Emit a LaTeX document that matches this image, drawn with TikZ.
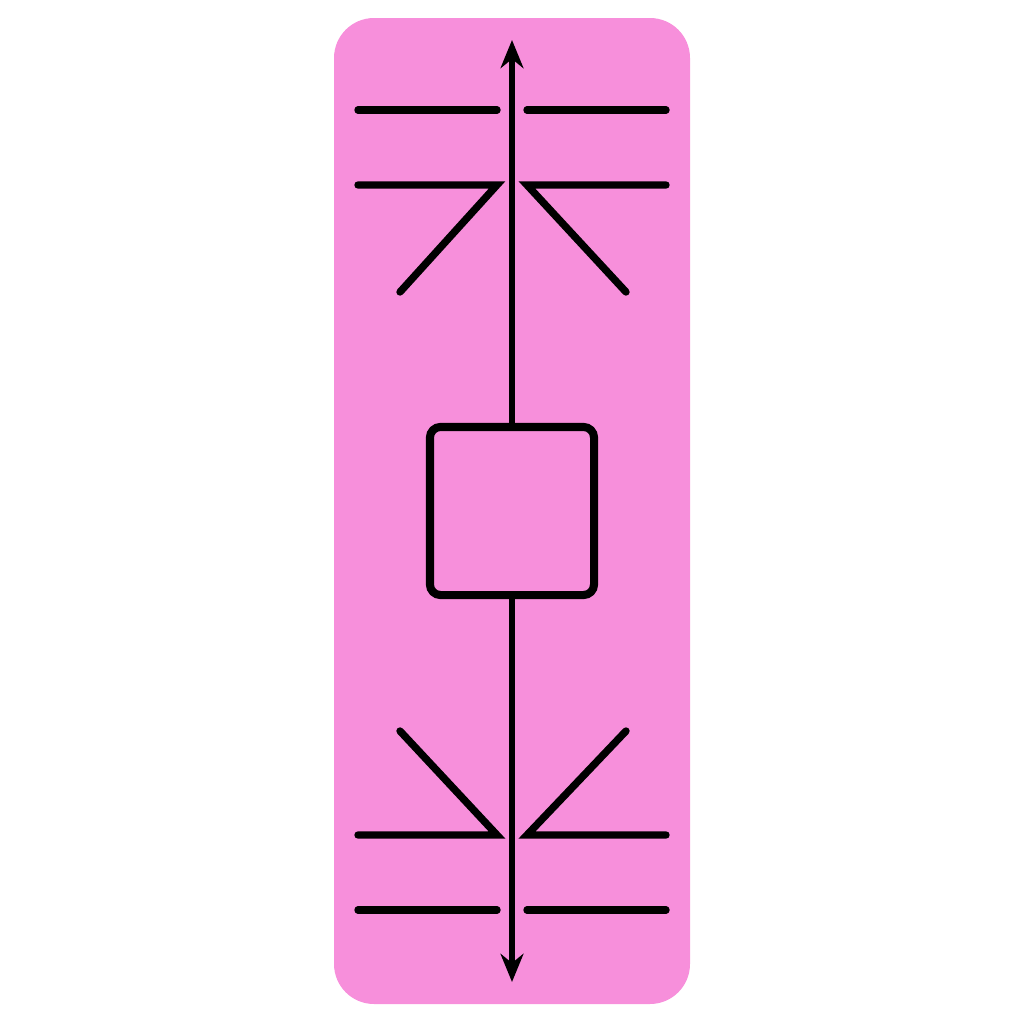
\documentclass[tikz,border=0pt]{standalone}
\usetikzlibrary{arrows.meta}
\definecolor{bgpink}{RGB}{247,143,219}
\tikzset{
  stroke/.style={draw=black,line width=2.1pt,line cap=round},
  axisline/.style={draw=black,line width=1.8pt,-{Stealth[length=8pt,width=6.5pt]}},
  boxnode/.style={draw=black,line width=2.3pt,minimum width=1.64cm,minimum height=1.68cm,rounded corners=3pt,inner sep=0pt}
}
\begin{document}
\begin{tikzpicture}[x=0.01cm,y=-0.01cm]
\useasboundingbox (0,0) rectangle (1024,1024);
\fill[bgpink,rounded corners=0.4cm] (334,18) rectangle (690,1004);
\node[boxnode] (box) at (512,511) {};
\coordinate (top) at (512,40);
\coordinate (bot) at (512,982);
\draw[axisline] (box.north) -- (top);
\draw[axisline] (box.south) -- (bot);
% top left
\draw[stroke] (358,110) -- (497,110);
\draw[stroke] (358,185) -- (497,185) -- (400,292);
% top right
\draw[stroke] (527,110) -- (666,110);
\draw[stroke] (666,185) -- (527,185) -- (626,292);
% bottom left
\draw[stroke] (400,731) -- (497,835) -- (358,835);
\draw[stroke] (358,910) -- (497,910);
% bottom right
\draw[stroke] (626,731) -- (527,835) -- (666,835);
\draw[stroke] (527,910) -- (666,910);
\end{tikzpicture}
\end{document}
